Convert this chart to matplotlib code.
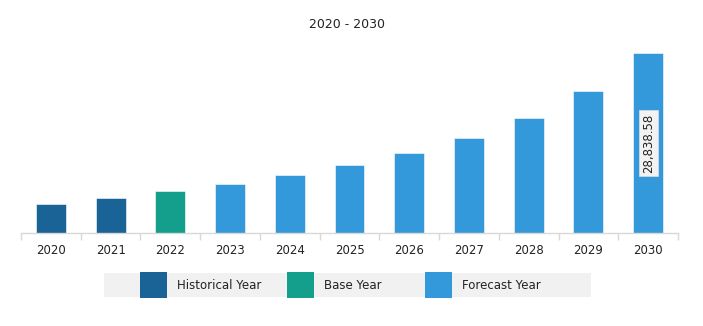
import numpy as np
import matplotlib
matplotlib.use("Agg")
import matplotlib.pyplot as plt
from matplotlib.patches import Rectangle

years = ["2020", "2021", "2022", "2023", "2024", "2025",
         "2026", "2027", "2028", "2029", "2030"]
values = [4690, 5610, 6730, 7850, 9290, 10890,
          12820, 15220, 18420, 22750, 28838.58]
kinds = ["Historical Year", "Historical Year", "Base Year"] + ["Forecast Year"] * 8
kind_colors = {"Historical Year": "#1a6396",
               "Base Year": "#139f8b",
               "Forecast Year": "#3499db"}
legend_items = ["Historical Year", "Base Year", "Forecast Year"]

W, H = 703, 326
fig = plt.figure(figsize=(W / 100, H / 100), dpi=100)

# axes placed in pixel units
left, right, bottom, top = 21, 678, 233, 53
ax = fig.add_axes([left / W, 1 - bottom / H, (right - left) / W, (bottom - top) / H])

x = np.arange(len(years))
colors = [kind_colors[k] for k in kinds]
ax.bar(x, values, width=0.5, color=colors, edgecolor="#ffffff", linewidth=0.4)
ax.set_xlim(-0.5, len(years) - 0.5)
ax.set_ylim(0, max(values))

for s in ["top", "right", "left"]:
    ax.spines[s].set_visible(False)
ax.spines["bottom"].set_color("#d8d8d8")
ax.spines["bottom"].set_linewidth(1)
ax.set_yticks([])

# category labels centred, ticks on the boundaries
ax.set_xticks(x)
ax.set_xticklabels(years, fontsize=8.5, color="#222222")
ax.tick_params(axis="x", length=0, pad=8)
ax.set_xticks(np.arange(-0.5, len(years)), minor=True)
ax.tick_params(axis="x", which="minor", length=5, color="#d8d8d8", width=1)

# value label on the last bar
ax.text(x[-1], values[-1] * 0.5, f"{values[-1]:,.2f}", rotation=90,
        ha="center", va="center", fontsize=8.5, color="#222222",
        bbox=dict(boxstyle="square,pad=0.25", fc="#f2f2f2", ec="#dddddd", lw=0.5))

fig.text(347 / W, 1 - 25 / H, "2020 - 2030", ha="center", va="center",
         fontsize=9, color="#222222")

# legend strip
fig.patches.append(Rectangle((104 / W, 1 - 297 / H), (591 - 104) / W, 24 / H,
                             transform=fig.transFigure, fc="#f1f1f1", ec="none"))
patch_x = [140, 287, 425]
for px, name in zip(patch_x, legend_items):
    fig.patches.append(Rectangle((px / W, 1 - 298 / H), 27 / W, 26 / H,
                                 transform=fig.transFigure,
                                 fc=kind_colors[name], ec="none"))
    fig.text((px + 37) / W, 1 - 285.5 / H, name, ha="left", va="center",
             fontsize=8.5, color="#222222")

fig.savefig("out.png", dpi=100)
